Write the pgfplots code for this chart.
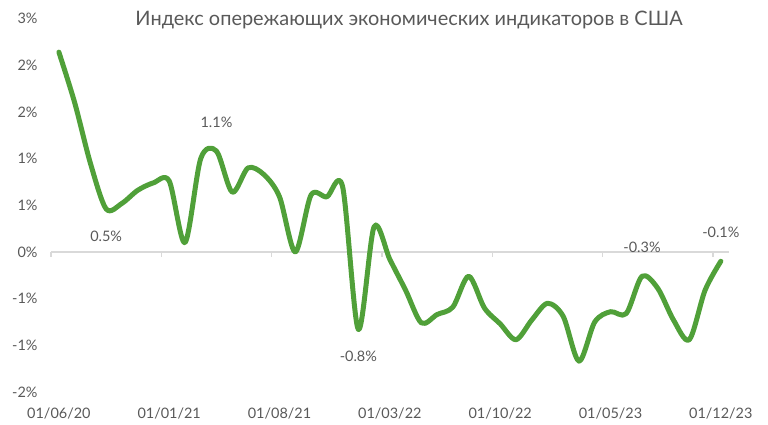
\documentclass[border=0pt]{standalone}
\usepackage{fontspec}
\setmainfont{Lato}
\usepackage{pgfplots}
\pgfplotsset{compat=1.18}
\usepackage{pgfplotstable}
\definecolor{txt}{RGB}{89,89,89}
\definecolor{lgreen}{RGB}{80,160,57}
\definecolor{zline}{RGB}{217,217,217}
\pgfplotstableread{
i v
0 2.14
1 1.60
2 0.95
3 0.46
4 0.52
5 0.66
6 0.74
7 0.76
8 0.10
9 1.00
10 1.08
11 0.64
12 0.90
13 0.83
14 0.59
15 0.00
16 0.61
17 0.59
18 0.70
19 -0.83
20 0.27
21 -0.08
22 -0.41
23 -0.76
24 -0.67
25 -0.59
26 -0.26
27 -0.60
28 -0.77
29 -0.94
30 -0.73
31 -0.55
32 -0.69
33 -1.17
34 -0.75
35 -0.64
36 -0.66
37 -0.26
38 -0.39
39 -0.73
40 -0.94
41 -0.41
42 -0.10
}\lei
\pgfplotstableread{
i v lab
10 1.08 1.1\%
37 -0.26 -0.3\%
42 -0.10 -0.1\%
}\above
\pgfplotstableread{
i v lab
3 0.46 0.5\%
19 -0.83 -0.8\%
}\below
\begin{document}
\begin{tikzpicture}
\useasboundingbox (0,0) rectangle (768bp,425bp);
\node[text=txt, font=\fontsize{20}{22}\selectfont] at (409bp,405bp) {Индекс опережающих экономических индикаторов в США};
\begin{axis}[
  at={(51bp,33bp)}, anchor=south west,
  scale only axis, width=677.7bp, height=373.5bp,
  xmin=-0.5, xmax=42.5, ymin=-1.5, ymax=2.5,
  axis line style={draw=none},
  xtick={0,7,14,21,28,35,42},
  xticklabels={01/06/20,01/01/21,01/08/21,01/03/22,01/10/22,01/05/23,01/12/23},
  ytick={-1.5,-1,-0.5,0,0.5,1,1.5,2,2.5},
  yticklabels={-2\%,-1\%,-1\%,0\%,1\%,1\%,2\%,2\%,3\%},
  major tick length=0pt,
  tick label style={text=txt, font=\fontsize{14.5}{16}\selectfont},
  xticklabel style={anchor=base, yshift=-26bp},
  yticklabel style={anchor=east, xshift=-10bp},
  clip=false,
]
\pgfplotsinvokeforeach{-0.5,6.5,13.5,20.5,27.5,34.5,41.5}{
  \draw[zline, line width=1.3bp] (axis cs:#1,0) -- (axis cs:#1,-0.055);
}
\draw[zline, line width=1.5bp] (axis cs:-0.5,0) -- (axis cs:42.5,0);
\addplot[lgreen, line width=5bp, smooth, tension=0.5, line cap=round, line join=round] table[x=i,y=v] {\lei};
\addplot[draw=none, nodes near coords, point meta=explicit symbolic,
  every node near coord/.style={anchor=center, yshift=29bp, text=txt, font=\fontsize{14.5}{16}\selectfont}]
  table[x=i,y=v,meta=lab] {\above};
\addplot[draw=none, nodes near coords, point meta=explicit symbolic,
  every node near coord/.style={anchor=center, yshift=-27bp, text=txt, font=\fontsize{14.5}{16}\selectfont}]
  table[x=i,y=v,meta=lab] {\below};
\end{axis}
\end{tikzpicture}
\end{document}
